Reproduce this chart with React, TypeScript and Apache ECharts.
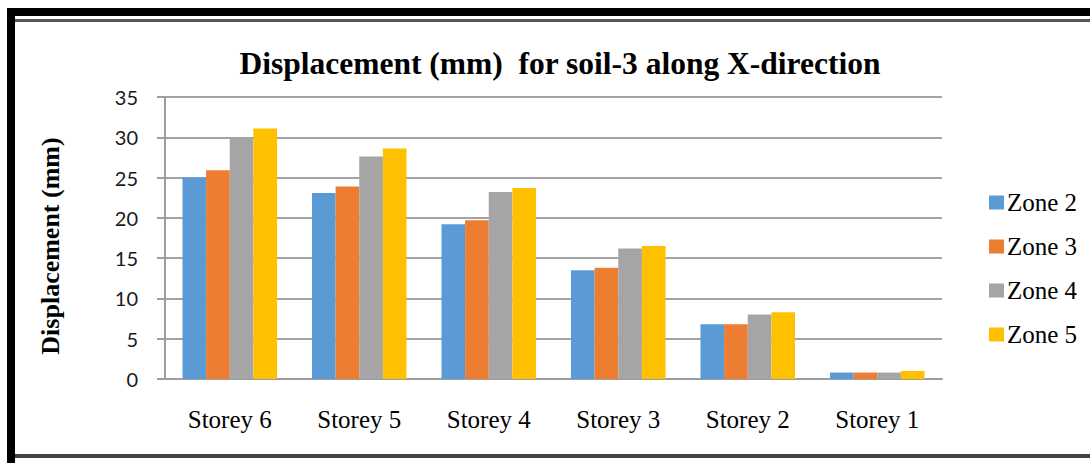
import React, { useEffect, useRef } from "react";
import * as echarts from "echarts";

const categories = ["Storey 6", "Storey 5", "Storey 4", "Storey 3", "Storey 2", "Storey 1"];
const seriesNames = ["Zone 2", "Zone 3", "Zone 4", "Zone 5"];
const zone2 = [25.0, 23.1, 19.2, 13.5, 6.8, 0.8];
const zone3 = [25.9, 23.9, 19.7, 13.8, 6.8, 0.8];
const zone4 = [30.0, 27.6, 23.2, 16.2, 8.0, 0.8];
const zone5 = [31.1, 28.6, 23.7, 16.5, 8.3, 1.0];
const colors = ["#5B9BD5", "#ED7D31", "#A5A5A5", "#FFC000"];

export default function App() {
  const ref = useRef<HTMLDivElement>(null);
  useEffect(() => {
    if (!ref.current) return;
    const chart = echarts.init(ref.current, null, { renderer: "svg" });
    const data = [zone2, zone3, zone4, zone5];
    const serif = "'Liberation Serif', 'Times New Roman', serif";
    chart.setOption({
      animation: false,
      backgroundColor: "#ffffff",
      color: colors,
      title: {
        text: "Displacement (mm)  for soil-3 along X-direction",
        left: 555,
        textAlign: "center",
        top: 42,
        textStyle: { fontFamily: serif, fontWeight: "bold", fontSize: 31.5, color: "#000" },
      },
      legend: {
        orient: "vertical",
        left: 984,
        top: 185,
        itemWidth: 15,
        itemHeight: 14,
        itemGap: 19,
        icon: "rect",
        data: seriesNames,
        textStyle: { fontFamily: serif, fontSize: 25, color: "#000", lineHeight: 25, padding: [0, 0, 0, -2] },
      },
      grid: { left: 165, right: 148, top: 97, bottom: 84, containLabel: false },
      xAxis: {
        type: "category",
        data: categories,
        axisTick: { show: false },
        axisLine: { lineStyle: { color: "#9e9e9e", width: 2 } },
        axisLabel: { fontFamily: serif, fontSize: 25, color: "#000", margin: 28 },
      },
      yAxis: {
        type: "value",
        min: 0,
        max: 35,
        interval: 5,
        axisLine: { show: true, lineStyle: { color: "#9e9e9e", width: 2 } },
        axisTick: { show: true, length: 8, lineStyle: { color: "#9e9e9e", width: 2 } },
        splitLine: { lineStyle: { color: "#a3a3a3", width: 2 } },
        axisLabel: { fontFamily: "Lato, 'Open Sans', sans-serif", fontSize: 20, color: "#1a1a1a", margin: 27 },
      },
      series: seriesNames.map((name, i) => ({
        name,
        type: "bar",
        data: data[i],
        barGap: "0%",
        barCategoryGap: "27%",
        itemStyle: { color: colors[i] },
      })),
      graphic: [
        { type: "rect", shape: { x: 7, y: 8, width: 1083, height: 8 }, style: { fill: "#000" } },
        { type: "rect", shape: { x: 7, y: 8, width: 8, height: 455 }, style: { fill: "#000" } },
        { type: "rect", shape: { x: 15, y: 19, width: 1075, height: 3 }, style: { fill: "#555" } },
        { type: "rect", shape: { x: 15, y: 454, width: 1075, height: 4 }, style: { fill: "#444" } },
        {
          type: "text",
          x: 50,
          y: 246,
          rotation: Math.PI / 2,
          style: {
            text: "Displacement (mm)",
            fontFamily: serif,
            fontWeight: "bold",
            fontSize: 26,
            fill: "#000",
            textAlign: "center",
            textVerticalAlign: "middle",
          },
        },
      ],
    });
    return () => chart.dispose();
  }, []);
  return (
    <div
      ref={ref}
      style={{ position: "absolute", left: 0, top: 0, width: 1090, height: 463 }}
    />
  );
}
